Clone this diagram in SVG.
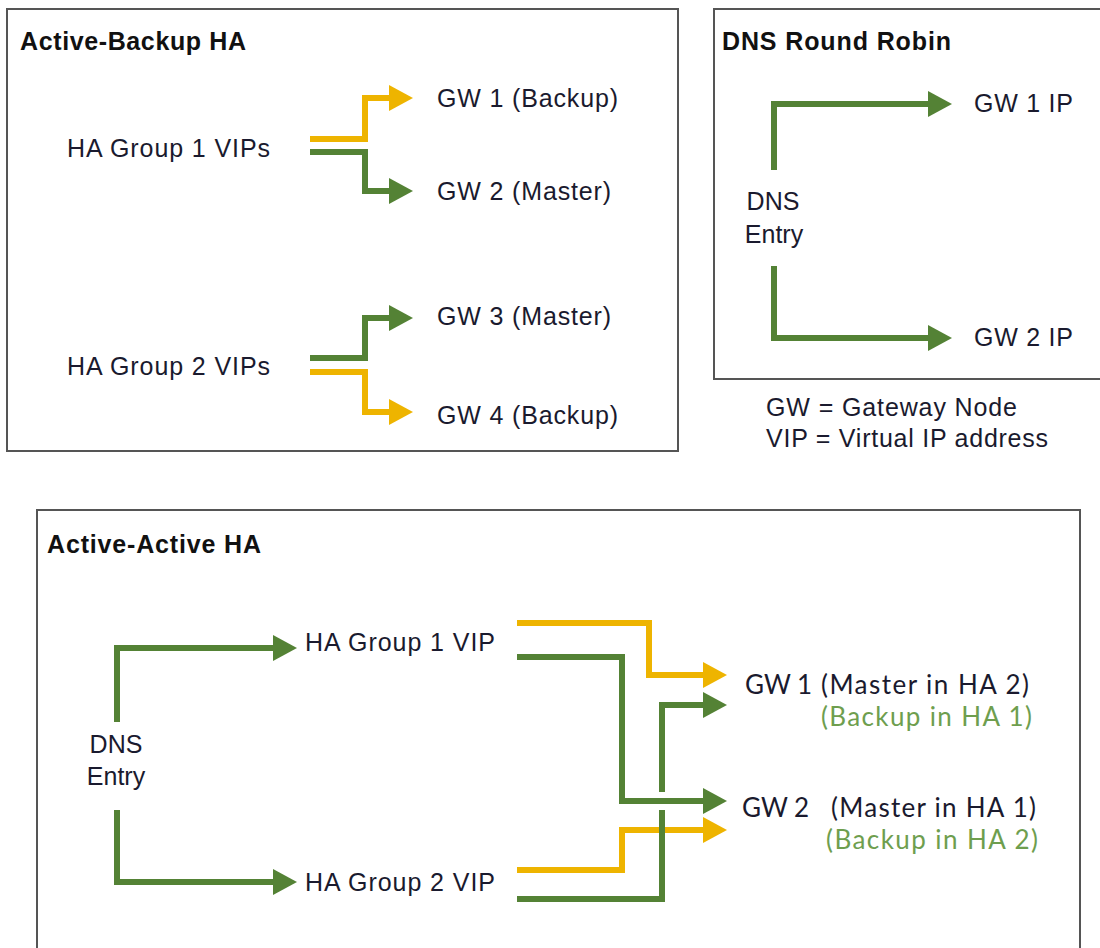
<svg xmlns="http://www.w3.org/2000/svg" width="1100" height="948" viewBox="0 0 1100 948">
  <style>
    .box { fill: #ffffff; stroke: #555555; stroke-width: 2; }
    .title { font-family: "Liberation Sans", Arial, sans-serif; font-weight: bold; font-size: 25px; fill: #111111; }
    .lbl { font-family: "Liberation Sans", Arial, sans-serif; font-size: 25px; fill: #1a1a2e; }
    .cal { font-family: Lato, "Liberation Sans", sans-serif; font-size: 26px; fill: #1a1a2e; }
    .calg { font-family: Lato, "Liberation Sans", sans-serif; font-size: 26px; fill: #6E9E4E; }
    .g { fill: none; stroke: #548235; stroke-width: 6; stroke-linecap: butt; stroke-linejoin: miter; }
    .y { fill: none; stroke: #EEB400; stroke-width: 6; stroke-linecap: butt; stroke-linejoin: miter; }
  </style>
  <defs>
    <marker id="ag" markerUnits="userSpaceOnUse" markerWidth="26" markerHeight="26" refX="4" refY="13" orient="auto">
      <path d="M0,0 L24,13 L0,26 Z" fill="#548235"/>
    </marker>
    <marker id="ay" markerUnits="userSpaceOnUse" markerWidth="26" markerHeight="26" refX="4" refY="13" orient="auto">
      <path d="M0,0 L24,13 L0,26 Z" fill="#EEB400"/>
    </marker>
  </defs>
  <rect width="1100" height="948" fill="#ffffff"/>

  <g id="frames">
    <rect id="box-active-backup" class="box" x="7" y="9" width="671" height="442"/>
    <rect id="box-dns-rr" class="box" x="714" y="9" width="400" height="370"/>
    <rect id="box-active-active" class="box" x="37" y="510" width="1043" height="460"/>
    <text class="title" x="20" y="50" textLength="226" lengthAdjust="spacing">Active-Backup HA</text>
    <text class="title" x="722" y="50" textLength="229" lengthAdjust="spacing">DNS Round Robin</text>
    <text class="title" x="47" y="553" textLength="214" lengthAdjust="spacing">Active-Active HA</text>
  </g>

  <g id="connectors">
    <!-- Active-Backup -->
    <path class="y" d="M310,139 H365 V98 H393" marker-end="url(#ay)"/>
    <path class="g" d="M310,152 H365 V191 H393" marker-end="url(#ag)"/>
    <path class="g" d="M310,358 H365 V318 H393" marker-end="url(#ag)"/>
    <path class="y" d="M310,372 H365 V412 H393" marker-end="url(#ay)"/>
    <!-- DNS RR -->
    <path class="g" d="M774,170 V104 H932" marker-end="url(#ag)"/>
    <path class="g" d="M774,266 V338 H932" marker-end="url(#ag)"/>
    <!-- Active-Active -->
    <path class="g" d="M117,722 V648 H277" marker-end="url(#ag)"/>
    <path class="g" d="M117,810 V882 H277" marker-end="url(#ag)"/>
    <path class="y" d="M517,623 H649 V675 H707" marker-end="url(#ay)"/>
    <path class="g" d="M517,657 H622 V801 H707" marker-end="url(#ag)"/>
    <path class="y" d="M517,870 H622 V830 H707" marker-end="url(#ay)"/>
    <path class="g" d="M517,899 H662 V810"/>
    <path class="g" d="M662,792 V705 H707" marker-end="url(#ag)"/>
  </g>

  <g id="node-hag1-vips"><text class="lbl" x="67" y="157" textLength="203" lengthAdjust="spacing">HA Group 1 VIPs</text></g>
  <g id="node-hag2-vips"><text class="lbl" x="67" y="375" textLength="203" lengthAdjust="spacing">HA Group 2 VIPs</text></g>
  <g id="node-gw1-backup"><text class="lbl" x="437" y="107" textLength="181" lengthAdjust="spacing">GW 1 (Backup)</text></g>
  <g id="node-gw2-master"><text class="lbl" x="437" y="200" textLength="174" lengthAdjust="spacing">GW 2 (Master)</text></g>
  <g id="node-gw3-master"><text class="lbl" x="437" y="325" textLength="174" lengthAdjust="spacing">GW 3 (Master)</text></g>
  <g id="node-gw4-backup"><text class="lbl" x="437" y="424" textLength="181" lengthAdjust="spacing">GW 4 (Backup)</text></g>

  <g id="node-dns-rr"><text class="lbl" x="773" y="210" text-anchor="middle">DNS</text><text class="lbl" x="774" y="243" text-anchor="middle">Entry</text></g>
  <g id="node-gw1-ip"><text class="lbl" x="974" y="112" textLength="99" lengthAdjust="spacing">GW 1 IP</text></g>
  <g id="node-gw2-ip"><text class="lbl" x="974" y="346" textLength="99" lengthAdjust="spacing">GW 2 IP</text></g>

  <g id="legend">
    <text class="lbl" x="766" y="416" textLength="251" lengthAdjust="spacing">GW = Gateway Node</text>
    <text class="lbl" x="766" y="447" textLength="282" lengthAdjust="spacing">VIP = Virtual IP address</text>
  </g>

  <g id="node-dns-aa"><text class="lbl" x="116" y="753" text-anchor="middle">DNS</text><text class="lbl" x="116" y="785" text-anchor="middle">Entry</text></g>
  <g id="node-hag1-vip"><text class="lbl" x="305" y="651" textLength="190" lengthAdjust="spacing">HA Group 1 VIP</text></g>
  <g id="node-hag2-vip"><text class="lbl" x="305" y="891" textLength="190" lengthAdjust="spacing">HA Group 2 VIP</text></g>

  <g id="node-gw1-aa">
    <text class="cal" x="745" y="694">GW 1</text>
    <text class="cal" x="821" y="694" textLength="208" lengthAdjust="spacing">(Master in HA 2)</text>
    <text class="calg" x="821" y="726" textLength="211" lengthAdjust="spacing">(Backup in HA 1)</text>
  </g>
  <g id="node-gw2-aa">
    <text class="cal" x="742" y="817">GW 2</text>
    <text class="cal" x="831" y="817" textLength="205" lengthAdjust="spacing">(Master in HA 1)</text>
    <text class="calg" x="826" y="849" textLength="212" lengthAdjust="spacing">(Backup in HA 2)</text>
  </g>
</svg>
